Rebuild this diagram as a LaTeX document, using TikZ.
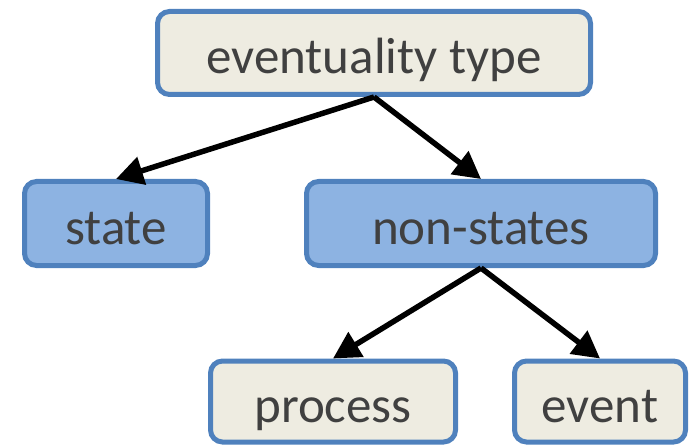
\documentclass[tikz,border=0pt]{standalone}
\usepackage{fontspec}
\setmainfont{Carlito}
\usetikzlibrary{arrows.meta}
\definecolor{bordblue}{HTML}{4F81BD}
\definecolor{lightfill}{HTML}{EEECE1}
\definecolor{bluefill}{HTML}{8DB3E2}
\definecolor{txt}{HTML}{404040}
\tikzset{
  box/.style={draw=bordblue, line width=5pt, rounded corners=12pt, text=txt,
    font=\fontsize{51}{60}\selectfont, inner sep=0pt, align=center,
    text height=41pt, text depth=0pt},
  lbox/.style={box, fill=lightfill},
  bbox/.style={box, fill=bluefill},
  conn/.style={line width=5.5pt, -{Triangle[length=27pt,width=28pt]}}
}
\begin{document}
\begin{tikzpicture}[x=1pt,y=-1pt]
\useasboundingbox (0,0) rectangle (692,446);
\node[lbox, minimum width=433pt, minimum height=83pt] (top) at (374,53) {eventuality type};
\node[bbox, minimum width=183pt, minimum height=84pt] (state) at (116,223.5) {state};
\node[bbox, minimum width=349pt, minimum height=84pt] (non) at (481,223.5) {non-states};
\node[lbox, minimum width=245pt, minimum height=81pt] (proc) at (333,401.5) {process};
\node[lbox, minimum width=171pt, minimum height=81pt] (event) at (600,401.5) {event};
\draw[conn] (top.south) -- (state.north);
\draw[conn] (top.south) -- (non.north);
\draw[conn] (non.south) -- (proc.north);
\draw[conn] (non.south) -- (event.north);
\end{tikzpicture}
\end{document}
